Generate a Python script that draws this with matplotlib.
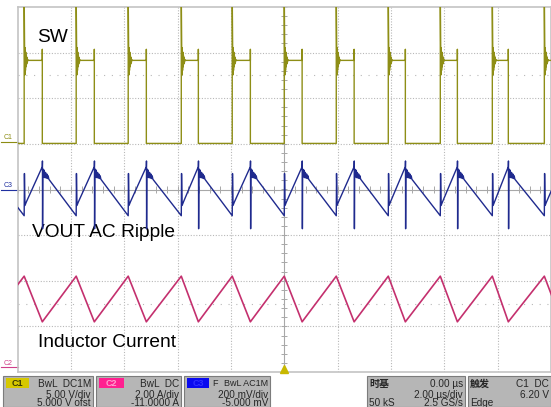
import numpy as np
import matplotlib.pyplot as plt
from matplotlib.patches import Rectangle

plt.rcParams['font.family'] = ['Liberation Sans', 'Noto Sans CJK SC', 'DejaVu Sans']

# ---- scope settings ----
c1_v_per_div, c1_zero_div = 5.0, 1.05      # SW
c2_a_per_div, c2_zero_div = 2.0, -3.9      # inductor current
c3_mv_per_div, c3_zero_div = 200.0, 0.0    # VOUT AC

# ---- SW node (C1), edge times in us ----
sw_rise_us = [-11.70, -9.75, -7.80, -5.85, -3.86, -1.95, 0.00, 1.95, 3.90, 5.85, 7.80, 9.75]
sw_fall_us = [-11.05, -9.07, -7.12, -5.17, -3.22, -1.27, 0.67, 2.62, 4.54, 6.49, 8.40, 10.40]
sw_low_v = -0.2
sw_high_v = 8.9
sw_spike_v = 16.0
sw_ring_v = [2.0, -1.6, 1.4, -1.1, 0.9, -0.7, 0.5, -0.4, 0.3, -0.2, 0.1, 0.0]

# ---- VOUT AC ripple (C3), mV ----
vout_valley_mv = -115
vout_peak_mv = 100
vout_rise_spike_mv = [70, -70, -55]
vout_fall_spike_mv = [125, -172]
vout_ring_mv = [-10, -45, -15, -48, -25, -50, -32, -52, -40, -55]

# ---- inductor current (C2), A ----
il_peak_a = 4.0
il_valley_a = 2.0


def sw_trace():
    t, v = [], []
    for r, f in zip(sw_rise_us, sw_fall_us):
        t += [r, r]
        v += [sw_low_v, sw_spike_v]
        for i, dv in enumerate(sw_ring_v):
            t.append(r + (i + 1) * 0.012)
            v.append(sw_high_v + dv)
        t += [f, f, f]
        v += [sw_high_v, sw_high_v + 1.2, sw_low_v]
    return np.array(t), np.array(v)


def vout_trace():
    t, v = [], []
    for r, f in zip(sw_rise_us, sw_fall_us):
        t += [r, r + 0.01, r + 0.03, r + 0.08, f, f + 0.005, f + 0.01]
        v += [vout_valley_mv] + vout_rise_spike_mv + [vout_peak_mv] + vout_fall_spike_mv
        for i, dv in enumerate(vout_ring_mv):
            t.append(f + 0.02 + i * 0.025)
            v.append(vout_peak_mv + dv)
    return np.array(t), np.array(v)


def il_trace():
    t, v = [], []
    for r, f in zip(sw_rise_us, sw_fall_us):
        t += [r, f]
        v += [il_peak_a, il_valley_a]
    return np.array(t), np.array(v)


fig = plt.figure(figsize=(5.51, 4.07), dpi=100)
fig.patch.set_facecolor('white')
ax = fig.add_axes([17.5 / 551, 35 / 407, 1 - 17.5 / 551, 365 / 407])
ax.set_xlim(-10, 10)
ax.set_ylim(-4, 4)

# grid
for gx in range(-8, 10, 2):
    if gx != 0:
        ax.axvline(gx, color='#b8b8b8', lw=0.8, ls=(0, (1, 1.5)), zorder=1)
for gy in range(-3, 4):
    if gy != 0:
        ax.axhline(gy, color='#b8b8b8', lw=0.8, ls=(0, (1, 1.5)), zorder=1)
for gy in (2.5, -2.5):
    ax.axhline(gy, color='#b8b8b8', lw=0.8, ls=(0, (1, 6)), zorder=1)
ax.axhline(0, color='#a8a8a8', lw=0.8, zorder=1)
ax.axvline(0, color='#a8a8a8', lw=0.8, zorder=1)
ax.vlines(np.arange(-10, 10.01, 0.4), -0.07, 0.07, color='#a8a8a8', lw=0.7, zorder=1)
ax.hlines(np.arange(-4, 4.01, 0.2), -0.12, 0.12, color='#a8a8a8', lw=0.7, zorder=1)
for s in ax.spines.values():
    s.set_color('#c4c4c4')
    s.set_linewidth(1.2)
ax.set_xticks([])
ax.set_yticks([])

# traces
t, v = sw_trace()
ax.plot(t, v / c1_v_per_div + c1_zero_div, color='#8e8e16', lw=1.0, zorder=3)
t, v = vout_trace()
ax.plot(t, v / c3_mv_per_div + c3_zero_div, color='#1f2a8e', lw=1.0, zorder=4)
t, v = il_trace()
ax.plot(t, v / c2_a_per_div + c2_zero_div, color='#c4306e', lw=1.2, zorder=3)

# annotations
big = dict(fontsize=13.8, color='black', va='center', ha='left')
ax.text(-9.26, 3.33, 'SW', **big)
ax.text(-9.45, -0.95, 'VOUT AC Ripple', **big)
ax.text(-9.22, -3.35, 'Inductor Current', **big)

# channel ground markers
for name, y0, col in [('C1', c1_zero_div, '#8c8c12'), ('C3', c3_zero_div, '#2030a0'),
                      ('C2', c2_zero_div, '#d0408a')]:
    ax.text(-10.35, y0 + 0.02, name, fontsize=5, color=col, ha='center', va='bottom', clip_on=False)
    ax.plot([-10.6, -10.0], [y0, y0], color=col, lw=0.8, clip_on=False)
ax.plot(0, -3.94, marker='^', ms=6, color='#c8b800', clip_on=False, zorder=5)

# ---- status bar ----
sb = fig.add_axes([0, 0, 1, 35 / 407])
sb.set_xlim(0, 551)
sb.set_ylim(407, 372)
sb.axis('off')

for x0, x1 in [(3, 93), (96, 181), (184, 270), (367, 465), (468, 551)]:
    sb.add_patch(Rectangle((x0, 376), x1 - x0, 31, facecolor='#b6b6b6', edgecolor='#7c7c7c', lw=0.8))

for x0, w, fc, name, tc in [(6, 23, '#d6c800', 'C1', '#3a3a00'), (99, 25, '#ff2090', 'C2', '#ffa0d0'),
                            (187, 22, '#0a0af0', 'C3', '#3030ff')]:
    sb.add_patch(Rectangle((x0, 378), w, 10, facecolor=fc, edgecolor='none'))
    sb.text(x0 + w / 2, 383.5, name, fontsize=6.5, fontweight='bold', color=tc, ha='center', va='center')

rows = [384, 394.5, 403.5]
tk = dict(fontsize=7.2, color='#262626', va='center')
panel_text = [
    (91, ['BwL  DC1M', '5.00 V/div', '5.000 V ofst']),
    (179, ['BwL  DC', '2.00 A/div', '-11.0000 A']),
    (268, ['', '200 mV/div', '-5.000 mV']),
    (463, ['0.00 µs', '2.00 µs/div', '2.5 GS/s']),
    (549, ['C1  DC', '6.20 V', '']),
]
for xr, lines in panel_text:
    for y, s in zip(rows, lines):
        sb.text(xr, y, s, ha='right', **tk)
sb.text(268, rows[0], 'BwL AC1M', ha='right', fontsize=6.5, color='#262626', va='center')
sb.text(212, rows[0], 'F', ha='left', fontsize=6.5, color='#262626', va='center')
sb.text(369, rows[0], '时基', ha='left', fontweight='bold', **tk)
sb.text(369, rows[2], '50 kS', ha='left', **tk)
sb.text(470, rows[0], '触发', ha='left', fontweight='bold', **tk)
sb.text(470, rows[2], 'Edge', ha='left', **tk)

fig.savefig('out.png', dpi=100, facecolor='white')
